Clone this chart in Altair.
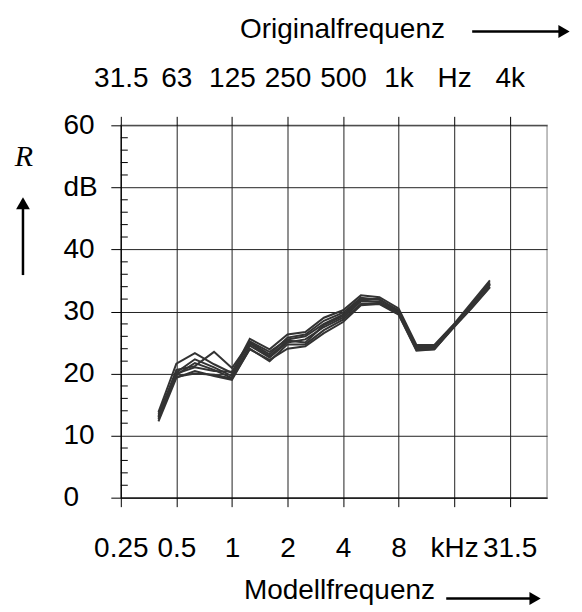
import altair as alt
import pandas as pd

# third-octave model frequencies (kHz)
freq_khz = [0.4, 0.5, 0.63, 0.8, 1, 1.25, 1.6, 2, 2.5, 3.15, 4, 5, 6.3, 8, 10, 12.5, 16, 20, 25]

s1 = [13.8, 21.6, 23.3, 21.5, 20.1, 25.6, 23.9, 26.3, 26.7, 29.0, 30.2, 32.6, 32.3, 30.5, 24.6, 24.6, 28.0, 31.5, 35.0]
s2 = [13.2, 20.6, 21.2, 23.5, 20.9, 25.0, 23.1, 25.8, 26.3, 28.5, 29.8, 32.2, 31.9, 30.2, 24.3, 24.4, 27.9, 31.2, 34.7]
s3 = [12.9, 20.2, 22.3, 21.0, 19.6, 25.2, 23.5, 25.5, 26.0, 28.0, 29.5, 32.0, 32.0, 30.0, 24.2, 24.2, 27.8, 31.0, 34.5]
s4 = [12.6, 19.8, 21.7, 20.6, 19.3, 24.5, 22.6, 25.0, 25.5, 27.5, 29.0, 31.6, 31.6, 29.8, 24.0, 24.1, 27.7, 30.9, 34.3]
s5 = [12.3, 19.3, 20.4, 19.6, 19.0, 24.0, 22.0, 24.7, 24.7, 27.0, 28.7, 31.2, 31.3, 29.6, 23.8, 23.9, 27.6, 30.7, 34.0]
s6 = [13.0, 19.5, 20.0, 19.8, 19.2, 23.9, 22.2, 24.0, 24.4, 26.5, 28.3, 31.0, 31.2, 29.5, 23.7, 23.9, 27.5, 30.6, 33.9]
s7 = [13.5, 20.0, 21.0, 20.4, 20.3, 24.8, 22.8, 25.3, 25.0, 27.8, 29.3, 31.8, 31.5, 29.9, 24.0, 24.0, 27.7, 30.8, 34.4]
series = {"1": s1, "2": s2, "3": s3, "4": s4, "5": s5, "6": s6, "7": s7}

x_ticks = [0.25, 0.5, 1, 2, 4, 8, 16, 32]
x_labels_bottom = ["0.25", "0.5", "1", "2", "4", "8", "kHz", "31.5"]
x_labels_top = ["31.5", "63", "125", "250", "500", "1k", "Hz", "4k"]
y_ticks = [0, 10, 20, 30, 40, 50, 60]
y_labels = ["0", "10", "20", "30", "40", "dB", "60"]
y_minor = [2, 4, 6, 8, 12, 14, 16, 18, 22, 24, 26, 28, 32, 34, 36, 38,
           42, 44, 46, 48, 52, 54, 56, 58]

rows = [{"f": f, "R": v, "s": k} for k, vals in series.items() for f, v in zip(freq_khz, vals)]
df = pd.DataFrame(rows)


def label_expr(values, labels):
    vals = "[" + ",".join(str(v) for v in values) + "]"
    labs = "[" + ",".join("'" + l + "'" for l in labels) + "]"
    return f"{labs}[indexof({vals}, datum.value)]"


FONT = "Liberation Sans"
xscale = alt.Scale(type="log", domain=[0.25, 51], nice=False)
yscale = alt.Scale(domain=[0, 60], nice=False, zero=False)

lines = alt.Chart(df).mark_line(color="#333333", strokeWidth=2).encode(
    x=alt.X("f:Q", scale=xscale, axis=alt.Axis(
        values=x_ticks, labelExpr=label_expr(x_ticks, x_labels_bottom),
        tickSize=9, tickColor="black", domainColor="black", grid=True,
        gridColor="#222222", gridOpacity=1, labelFontSize=28, labelFont=FONT,
        labelColor="black", labelPadding=28, labelFlush=False, labelOverlap=False,
        labelAngle=0, title=None)),
    y=alt.Y("R:Q", scale=yscale, axis=alt.Axis(
        values=y_ticks, labelExpr=label_expr(y_ticks, y_labels),
        tickSize=10, tickColor="black", domainColor="black", grid=True,
        gridColor="#222222", gridOpacity=1, labelFontSize=28, labelFont=FONT,
        labelColor="black", labelAlign="left", labelPadding=48, labelFlush=False,
        labelOverlap=False, title=None)),
    detail="s:N",
)

top_axis = alt.Chart(df).mark_point(opacity=0).encode(
    x=alt.X("f:Q", scale=xscale, axis=alt.Axis(
        orient="top", values=x_ticks, labelExpr=label_expr(x_ticks, x_labels_top),
        tickSize=9, tickColor="black", domain=False, grid=False,
        labelFontSize=28, labelFont=FONT, labelColor="black", labelPadding=24,
        labelFlush=False, labelOverlap=False, labelAngle=0, title=None)),
    y=alt.Y("R:Q", scale=yscale, axis=None),
)

minor = alt.Chart(pd.DataFrame({"m": y_minor})).mark_rule(color="black", strokeWidth=1).encode(
    y=alt.Y("m:Q", scale=yscale, axis=None),
    x=alt.value(0), x2=alt.value(7),
)

one = pd.DataFrame({"a": [0]})


def txt(s, x, y, size=28, font=FONT, style="normal"):
    return alt.Chart(one).mark_text(text=s, font=font, fontSize=size, fontStyle=style,
                                    align="center", baseline="middle", color="black").encode(
        x=alt.value(x), y=alt.value(y))


def hrule(x1, x2, y):
    return alt.Chart(one).mark_rule(color="black", strokeWidth=2.5).encode(
        x=alt.value(x1), x2=alt.value(x2), y=alt.value(y))


def vrule(x, y1, y2):
    return alt.Chart(one).mark_rule(color="black", strokeWidth=2.5).encode(
        x=alt.value(x), y=alt.value(y1), y2=alt.value(y2))


def head(x, y, shape, size=170):
    return alt.Chart(one).mark_point(shape=shape, filled=True, color="black", opacity=1,
                                     size=size, strokeWidth=0).encode(
        x=alt.value(x), y=alt.value(y))


annotations = [
    txt("Originalfrequenz", 222, -95),
    hrule(352, 440, -94), head(444, -94, "triangle-right"),
    txt("Modellfrequenz", 219, 467),
    hrule(326, 412, 474), head(415, 474, "triangle-right"),
    txt("R", -97, 32, size=30, font="Liberation Serif", style="italic"),
    vrule(-98, 150, 82), head(-98, 78, "triangle-up", 190),
]

chart = alt.layer(lines, top_axis, minor, *annotations).resolve_axis(
    x="independent", y="independent"
).properties(
    width=427, height=373,
    autosize=alt.AutoSizeParams(type="none"),
    padding={"left": 113, "top": 117, "right": 27, "bottom": 112},
).configure_view(stroke="#aaaaaa", strokeWidth=1.5)

chart.save("out.html", embed_options={"renderer": "svg", "actions": False})
